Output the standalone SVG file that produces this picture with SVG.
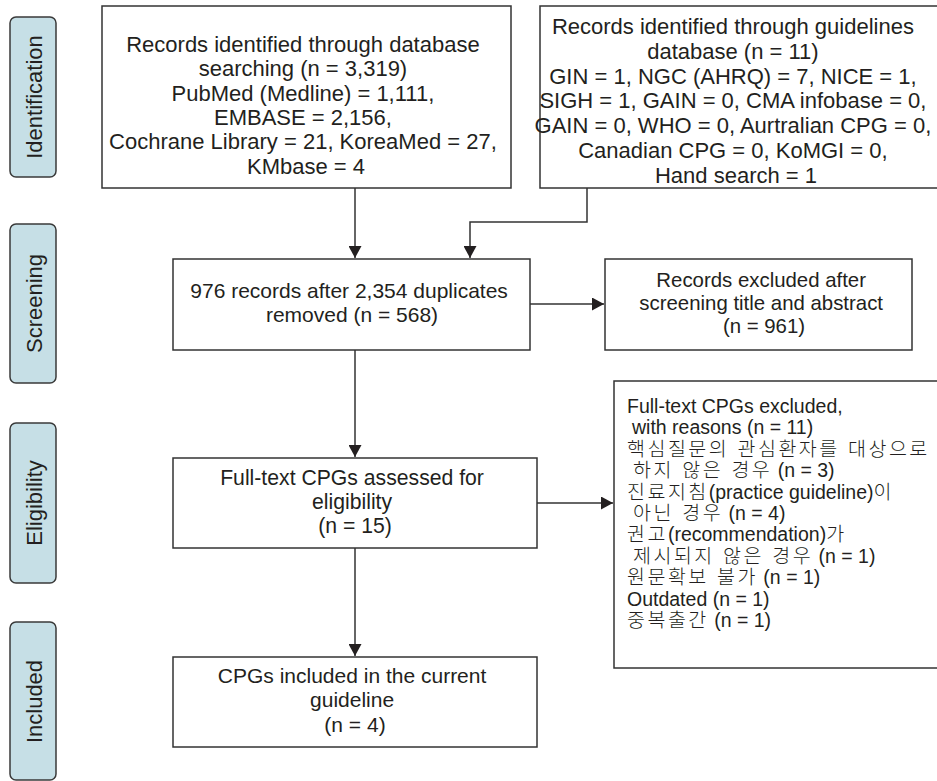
<svg xmlns="http://www.w3.org/2000/svg" width="937" height="781" viewBox="0 0 937 781">
<style>
text { font-family: "Liberation Sans", Arial, "Noto Sans CJK KR", sans-serif; fill: #231f20; }
.box { fill: #ffffff; stroke: #333333; stroke-width: 1.5; }
.stage { fill: #c6dfe6; stroke: #3a3a3a; stroke-width: 1.5; }
.stg { font-size: 22px; text-anchor: middle; }
.c { text-anchor: middle; }
.kr { font-family: "Noto Sans CJK KR", sans-serif; font-weight: 300; letter-spacing: 2.5px; word-spacing: 1.5px; }
.conn { fill: none; stroke: #333333; stroke-width: 1.5; }
</style>
<defs>
<marker id="arr" markerWidth="13" markerHeight="13" refX="12" refY="6.5" orient="auto" markerUnits="userSpaceOnUse">
<path d="M0,0 L12,6.5 L0,13 Z" fill="#231f20"/>
</marker>
</defs>
<rect x="0" y="0" width="937" height="781" fill="#ffffff"/>

<g id="stage-identification">
<rect class="stage" x="10" y="17" width="46" height="160" rx="6"/>
<text class="stg" transform="translate(41.5,97) rotate(-90)">Identification</text>
</g>
<g id="stage-screening">
<rect class="stage" x="10" y="224" width="46" height="159" rx="6"/>
<text class="stg" transform="translate(41.5,303.5) rotate(-90)">Screening</text>
</g>
<g id="stage-eligibility">
<rect class="stage" x="10" y="423" width="46" height="160" rx="6"/>
<text class="stg" transform="translate(41.5,503) rotate(-90)">Eligibility</text>
</g>
<g id="stage-included">
<rect class="stage" x="10" y="622" width="46" height="158" rx="6"/>
<text class="stg" transform="translate(41.5,701.5) rotate(-90)">Included</text>
</g>

<g id="connectors">
<path class="conn" d="M355,188 V258" marker-end="url(#arr)"/>
<path class="conn" d="M587,188 V222 H470 V258" marker-end="url(#arr)"/>
<path class="conn" d="M530,304 H604" marker-end="url(#arr)"/>
<path class="conn" d="M355,350 V457" marker-end="url(#arr)"/>
<path class="conn" d="M537,503 H613" marker-end="url(#arr)"/>
<path class="conn" d="M355,548 V656" marker-end="url(#arr)"/>
</g>

<g id="node-database">
<rect class="box" x="102" y="6" width="409" height="182"/>
<text class="c" font-size="22">
<tspan x="306" y="52">Records identified through database</tspan>
<tspan x="306" y="76.3">searching (n = 3,319)</tspan>
<tspan x="306" y="100.6">PubMed (Medline) = 1,111,</tspan>
<tspan x="306" y="125">EMBASE = 2,156,</tspan>
<tspan x="306" y="149.3">Cochrane Library = 21, KoreaMed = 27,</tspan>
<tspan x="306" y="173.6">KMbase = 4</tspan>
</text>
</g>

<g id="node-guidelines">
<rect class="box" x="540" y="6" width="400" height="182"/>
<text class="c" font-size="22">
<tspan x="736" y="34">Records identified through guidelines</tspan>
<tspan x="736" y="58.8">database (n = 11)</tspan>
<tspan x="736" y="83.6">GIN = 1, NGC (AHRQ) = 7, NICE = 1,</tspan>
<tspan x="736" y="108.4">SIGH = 1, GAIN = 0, CMA infobase = 0,</tspan>
<tspan x="736" y="133.2">GAIN = 0, WHO = 0, Aurtralian CPG = 0,</tspan>
<tspan x="736" y="158">Canadian CPG = 0, KoMGI = 0,</tspan>
<tspan x="736" y="182.8">Hand search = 1</tspan>
</text>
</g>

<g id="node-duplicates">
<rect class="box" x="173" y="259" width="357" height="91"/>
<text class="c" font-size="21">
<tspan x="352" y="298">976 records after 2,354 duplicates</tspan>
<tspan x="352" y="322">removed (n = 568)</tspan>
</text>
</g>

<g id="node-excluded-screening">
<rect class="box" x="605" y="259" width="307" height="91"/>
<text class="c" font-size="20.4">
<tspan x="764" y="287.3">Records excluded after</tspan>
<tspan x="764" y="310">screening title and abstract</tspan>
<tspan x="764" y="332.7">(n = 961)</tspan>
</text>
</g>

<g id="node-fulltext">
<rect class="box" x="173" y="458" width="364" height="90"/>
<text class="c" font-size="21.2">
<tspan x="355" y="485">Full-text CPGs assessed for</tspan>
<tspan x="355" y="508.5">eligibility</tspan>
<tspan x="355" y="532.5">(n = 15)</tspan>
</text>
</g>

<g id="node-excluded-fulltext">
<rect class="box" x="614" y="381" width="330" height="287"/>
<text font-size="19.5">
<tspan x="627" y="413">Full-text CPGs excluded,</tspan>
<tspan x="632" y="434.4">with reasons (n = 11)</tspan>
<tspan x="627" y="455.8" class="kr">핵심질문의 관심환자를 대상으로</tspan>
<tspan x="633" y="477.2"><tspan class="kr">하지 않은 경우</tspan> (n = 3)</tspan>
<tspan x="627" y="498.6"><tspan class="kr">진료지침</tspan>(practice guideline)<tspan class="kr">이</tspan></tspan>
<tspan x="633" y="520"><tspan class="kr">아닌 경우</tspan> (n = 4)</tspan>
<tspan x="627" y="541.4"><tspan class="kr">권고</tspan>(recommendation)<tspan class="kr">가</tspan></tspan>
<tspan x="633" y="562.8"><tspan class="kr">제시되지 않은 경우</tspan> (n = 1)</tspan>
<tspan x="627" y="584.2"><tspan class="kr">원문확보 불가</tspan> (n = 1)</tspan>
<tspan x="627" y="605.6">Outdated (n = 1)</tspan>
<tspan x="627" y="627"><tspan class="kr">중복출간</tspan> (n = 1)</tspan>
</text>
</g>

<g id="node-included">
<rect class="box" x="173" y="657" width="364" height="90"/>
<text class="c" font-size="21">
<tspan x="355" y="683.3">CPGs included in the current</tspan>
<tspan x="355" y="707.3">guideline</tspan>
<tspan x="355" y="731.7">(n = 4)</tspan>
</text>
</g>
</svg>
